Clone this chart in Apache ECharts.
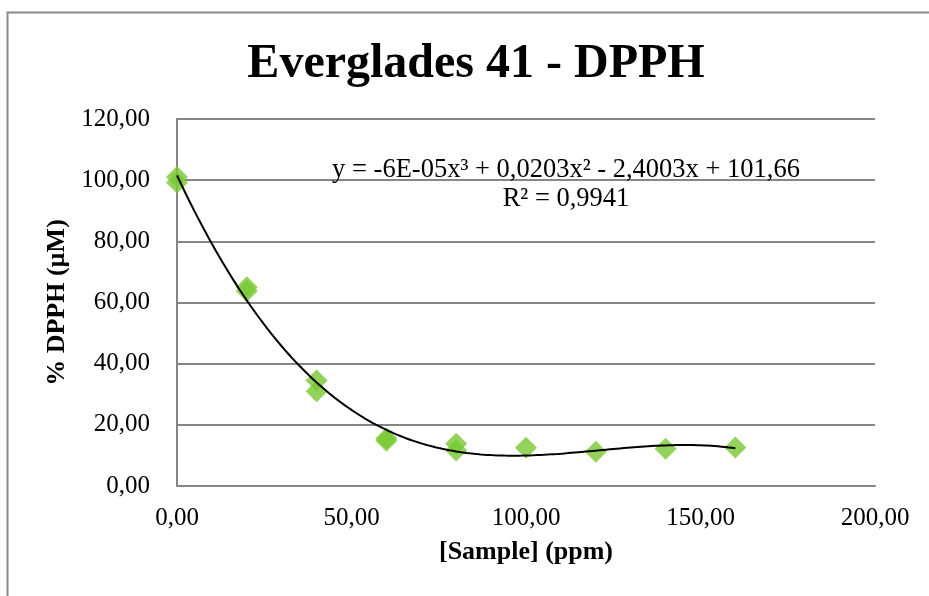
<!DOCTYPE html>
<html>
<head>
<meta charset="utf-8">
<script src="https://cdn.jsdelivr.net/npm/echarts@6/dist/echarts.min.js"></script>
<style>
  html, body { margin: 0; padding: 0; background: #fff; }
  #chart { width: 929px; height: 596px; }
</style>
</head>
<body>
<div id="chart"></div>
<script>
// Sample concentration (ppm) and measured % DPPH for each replicate
const concentrations = [0, 0, 20, 20, 40, 40, 60, 60, 80, 80, 100, 120, 140, 160];
const dpphValues     = [101.0, 99.2, 65.0, 63.8, 34.5, 31.0, 15.5, 14.8, 13.8, 11.6, 12.5, 11.2, 12.2, 12.6];

const xTicks = [0, 50, 100, 150, 200];
const yTicks = [0, 20, 40, 60, 80, 100, 120];

const titleText = 'Everglades 41 - DPPH';
const xName = '[Sample] (ppm)';
const yName = '% DPPH (µM)';
const equationText = 'y = -6E-05x³ + 0,0203x² - 2,4003x + 101,66';
const r2Text = 'R² = 0,9941';

// Least-squares cubic trendline through the measured points
function fitCubic(xs, ys) {
  const n = 4;
  const A = Array.from({ length: n }, () => new Array(n + 1).fill(0));
  for (let k = 0; k < xs.length; k++) {
    const p = [1, xs[k], xs[k] ** 2, xs[k] ** 3];
    for (let i = 0; i < n; i++) {
      for (let j = 0; j < n; j++) A[i][j] += p[i] * p[j];
      A[i][n] += p[i] * ys[k];
    }
  }
  for (let c = 0; c < n; c++) {
    let piv = c;
    for (let r = c + 1; r < n; r++) if (Math.abs(A[r][c]) > Math.abs(A[piv][c])) piv = r;
    [A[c], A[piv]] = [A[piv], A[c]];
    for (let r = 0; r < n; r++) {
      if (r === c) continue;
      const f = A[r][c] / A[c][c];
      for (let j = c; j <= n; j++) A[r][j] -= f * A[c][j];
    }
  }
  return A.map((row, i) => row[n] / row[i]);
}
const coef = fitCubic(concentrations, dpphValues);
const xMaxData = Math.max(...concentrations);
const trend = [];
for (let i = 0; i <= 160; i++) {
  const x = xMaxData * i / 160;
  trend.push([x, coef[0] + coef[1] * x + coef[2] * x * x + coef[3] * x * x * x]);
}

const fmt = v => v.toFixed(2).replace('.', ',');
const serif = '"Liberation Serif", "Times New Roman", serif';

const chart = echarts.init(document.getElementById('chart'), null, { renderer: 'canvas' });
chart.setOption({
  animation: false,
  backgroundColor: '#ffffff',
  textStyle: { fontFamily: serif },
  title: {
    text: titleText,
    left: 471, top: 36, textAlign: 'center',
    textStyle: { fontFamily: serif, fontSize: 48, fontWeight: 'bold', color: '#000' }
  },
  grid: { left: 177, top: 119, right: 54, bottom: 110 },
  xAxis: {
    type: 'value', min: 0, max: 200, interval: 50,
    name: xName, nameLocation: 'middle', nameGap: 53,
    nameTextStyle: { fontFamily: serif, fontSize: 26, fontWeight: 'bold', color: '#000' },
    axisLine: { show: true, lineStyle: { color: '#868686', width: 2 } },
    axisTick: { show: false },
    splitLine: { show: false },
    axisLabel: { fontFamily: serif, fontSize: 25, color: '#000', margin: 20,
      formatter: v => xTicks.includes(v) ? fmt(v) : '' }
  },
  yAxis: {
    type: 'value', min: 0, max: 120, interval: 20,
    name: yName, nameLocation: 'middle', nameGap: 104, nameRotate: 90,
    nameTextStyle: { fontFamily: serif, fontSize: 26, fontWeight: 'bold', color: '#000' },
    axisLine: { show: true, lineStyle: { color: '#868686', width: 2 } },
    axisTick: { show: false },
    splitLine: { show: true, lineStyle: { color: '#868686', width: 2 } },
    axisLabel: { fontFamily: serif, fontSize: 25, color: '#000', margin: 27,
      formatter: v => yTicks.includes(v) ? fmt(v) : '' }
  },
  graphic: [
    { type: 'rect', left: 5, top: 10, shape: { width: 940, height: 600 },
      style: { fill: 'none', stroke: '#8a8a8a', lineWidth: 2 }, silent: true, z: 100 },
    { type: 'text', x: 566, y: 170, style: { text: equationText, font: '26.5px ' + serif,
      fill: '#000', align: 'center', verticalAlign: 'middle' }, z: 50 },
    { type: 'text', x: 566, y: 199, style: { text: r2Text, font: '26.5px ' + serif,
      fill: '#000', align: 'center', verticalAlign: 'middle' }, z: 50 }
  ],
  series: [
    {
      type: 'scatter',
      data: concentrations.map((x, i) => [x, dpphValues[i]]),
      symbol: 'diamond', symbolSize: 22,
      itemStyle: { color: '#78c832' },
      z: 2
    },
    {
      type: 'line',
      data: trend,
      showSymbol: false, symbol: 'none',
      lineStyle: { color: '#000', width: 2 },
      z: 3
    }
  ]
});
</script>
</body>
</html>
